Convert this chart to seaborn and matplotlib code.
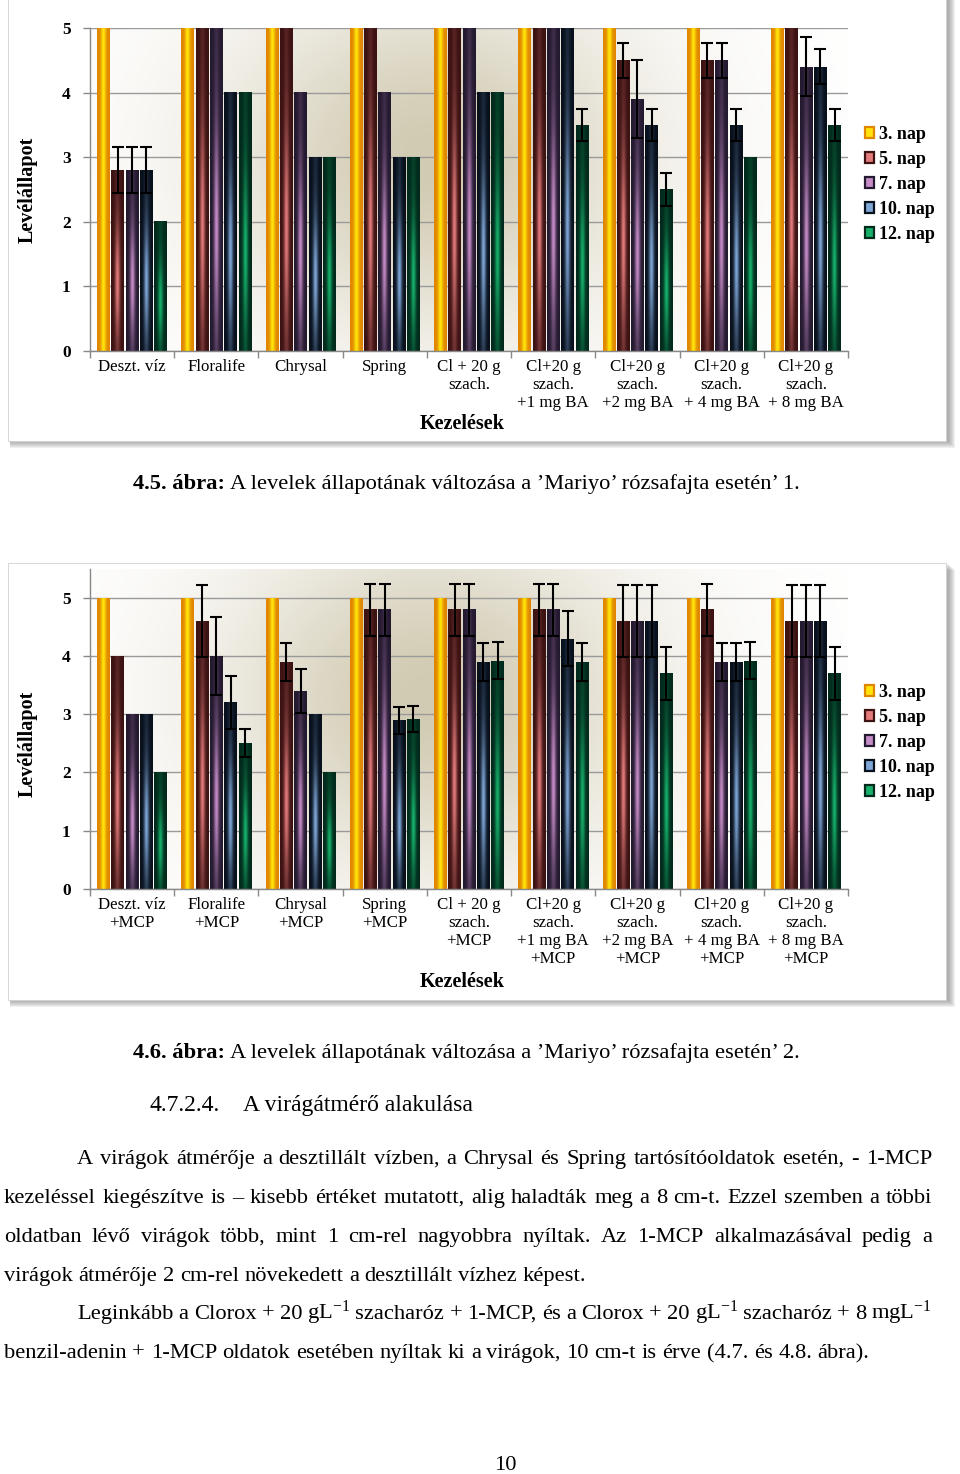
import numpy as np
import pandas as pd
import seaborn as sns
import matplotlib.pyplot as plt
from matplotlib.patches import Patch, Rectangle
from matplotlib.colors import to_rgb

# ---- data ---------------------------------------------------------------
days = ['3. nap', '5. nap', '7. nap', '10. nap', '12. nap']

cats_1 = ['Deszt. víz', 'Floralife', 'Chrysal', 'Spring', 'Cl + 20 g\nszach.',
          'Cl+20 g\nszach.\n+1 mg BA', 'Cl+20 g\nszach.\n+2 mg BA',
          'Cl+20 g\nszach.\n+ 4 mg BA', 'Cl+20 g\nszach.\n+ 8 mg BA']
nap3_1 = [5, 5, 5, 5, 5, 5, 5, 5, 5]
nap5_1 = [2.8, 5, 5, 5, 5, 5, 4.5, 4.5, 5]
nap7_1 = [2.8, 5, 4, 4, 5, 5, 3.9, 4.5, 4.4]
nap10_1 = [2.8, 4, 3, 3, 4, 5, 3.5, 3.5, 4.4]
nap12_1 = [2.0, 4, 3, 3, 4, 3.5, 2.5, 3.0, 3.5]
err3_1 = [0, 0, 0, 0, 0, 0, 0, 0, 0]
err5_1 = [0.35, 0, 0, 0, 0, 0, 0.27, 0.27, 0]
err7_1 = [0.35, 0, 0, 0, 0, 0, 0.6, 0.27, 0.46]
err10_1 = [0.35, 0, 0, 0, 0, 0, 0.25, 0.25, 0.27]
err12_1 = [0, 0, 0, 0, 0, 0.25, 0.26, 0, 0.25]

cats_2 = ['Deszt. víz\n+MCP', 'Floralife\n+MCP', 'Chrysal\n+MCP', 'Spring\n+MCP',
          'Cl + 20 g\nszach.\n+MCP', 'Cl+20 g\nszach.\n+1 mg BA\n+MCP',
          'Cl+20 g\nszach.\n+2 mg BA\n+MCP', 'Cl+20 g\nszach.\n+ 4 mg BA\n+MCP',
          'Cl+20 g\nszach.\n+ 8 mg BA\n+MCP']
nap3_2 = [5, 5, 5, 5, 5, 5, 5, 5, 5]
nap5_2 = [4, 4.6, 3.9, 4.8, 4.8, 4.8, 4.6, 4.8, 4.6]
nap7_2 = [3, 4.0, 3.4, 4.8, 4.8, 4.8, 4.6, 3.9, 4.6]
nap10_2 = [3, 3.2, 3.0, 2.9, 3.9, 4.3, 4.6, 3.9, 4.6]
nap12_2 = [2, 2.5, 2.0, 2.92, 3.92, 3.9, 3.7, 3.92, 3.7]
err3_2 = [0, 0, 0, 0, 0, 0, 0, 0, 0]
err5_2 = [0, 0.62, 0.33, 0.45, 0.45, 0.45, 0.62, 0.45, 0.62]
err7_2 = [0, 0.67, 0.38, 0.45, 0.45, 0.45, 0.62, 0.33, 0.62]
err10_2 = [0, 0.46, 0, 0.23, 0.33, 0.47, 0.62, 0.33, 0.62]
err12_2 = [0, 0.24, 0, 0.22, 0.32, 0.32, 0.45, 0.32, 0.45]

# bar colours: (edge/dark, centre/bright)
bar_cols = [('#E08600', '#FFE40A'), ('#3C1212', '#E47B7B'), ('#241A30', '#C68CC8'),
            ('#08101C', '#7EA6D6'), ('#022A1C', '#16B06A')]

plt.rcParams['font.family'] = 'Liberation Serif'
plt.rcParams['mathtext.fontset'] = 'custom'
plt.rcParams['mathtext.rm'] = 'Liberation Serif'
plt.rcParams['mathtext.it'] = 'Liberation Serif:italic'
plt.rcParams['mathtext.bf'] = 'Liberation Serif:bold'

W, H = 960, 1474
fig = plt.figure(figsize=(W / 100, H / 100), dpi=100)


def fx(px):
    return px / W


def fy(py):
    return 1 - py / H


def frame(x0, y0, x1, y1):
    # white chart frame with a soft grey shadow to the right and bottom
    for k in range(7, 0, -1):
        fig.patches.append(Rectangle((fx(x0 + 2), fy(y1 + k)), fx(x1 - x0 + k), (y1 - y0) / H,
                                     transform=fig.transFigure, facecolor='#606060',
                                     alpha=0.09, edgecolor='none', zorder=-3))
    fig.patches.append(Rectangle((fx(x0), fy(y1)), fx(x1 - x0), (y1 - y0) / H,
                                 transform=fig.transFigure, facecolor='white',
                                 edgecolor='#d0d0d0', lw=0.6, zorder=-1))


def long_df(cats, series):
    rows = []
    for d, vals in zip(days, series):
        for c, v in zip(cats, vals):
            rows.append({'Kezelés': c, 'nap': d, 'érték': v})
    return pd.DataFrame(rows)


def draw_chart(rect, cats, series, errs, ymax, ylab_y, xlab_y, leg_top):
    ax = fig.add_axes(rect)
    df = long_df(cats, series)
    sns.barplot(data=df, x='Kezelés', y='érték', hue='nap', ax=ax,
                palette=[c[1] for c in bar_cols], width=0.85, gap=0.12,
                errorbar=None, legend=False, zorder=2)

    # background: soft beige radial gradient
    gx, gy = np.meshgrid(np.linspace(0, 1, 200), np.linspace(0, 1, 120))
    t = np.exp(-(((gx - 0.45) / 0.28) ** 2 + ((gy - 0.6) / 0.55) ** 2))
    beige = np.array(to_rgb('#D2CBB3'))
    bg = 1 + (beige - 1) * t[..., None]
    ax.imshow(bg, extent=(0, 1, 0, 1), transform=ax.transAxes, origin='lower',
              aspect='auto', zorder=0, interpolation='bilinear')

    # gradient fills over each bar, error bars on top
    xs = np.linspace(0, 1, 40)
    hx = np.exp(-((xs - 0.5) / 0.2) ** 2)
    ys = np.linspace(0, 1, 120)
    hy = 0.15 + 0.85 * np.exp(-((ys - 0.38) / 0.3) ** 2)
    bars = [c for c in ax.containers]
    for i, cont in enumerate(bars):
        dark = np.array(to_rgb(bar_cols[i][0]))
        mid = np.array(to_rgb(bar_cols[i][1]))
        tt = np.tile(hx, (len(ys), 1)) if i == 0 else np.outer(hy, hx)
        img = dark + (mid - dark) * tt[..., None]
        for j, p in enumerate(cont):
            x0, w, h = p.get_x(), p.get_width(), p.get_height()
            p.set_facecolor(bar_cols[i][0])
            p.set_edgecolor('none')
            ax.imshow(img, extent=(x0, x0 + w, 0, h), origin='lower', aspect='auto',
                      zorder=3, interpolation='bilinear')
            e = errs[i][j]
            if e > 0:
                ax.errorbar(x0 + w / 2, h, yerr=e, fmt='none', ecolor='black',
                            elinewidth=1.5, capsize=4.6, capthick=1.5, zorder=5)

    ax.set_xlim(-0.5, len(cats) - 0.5)
    ax.set_ylim(0, ymax)
    ax.set_yticks([0, 1, 2, 3, 4, 5])
    ax.set_yticklabels(['0', '1', '2', '3', '4', '5'], fontsize=12.5, fontweight='bold')
    ax.set_xticks(range(len(cats)))
    ax.set_xticklabels(cats, fontsize=12.2, linespacing=1.16)
    ax.set_xticks(np.arange(-0.5, len(cats)), minor=True)
    ax.tick_params(axis='x', which='major', length=0, pad=6)
    ax.tick_params(axis='x', which='minor', length=5, color='#888888', width=1)
    ax.tick_params(axis='y', length=5, color='#888888', width=1, pad=9)
    ax.yaxis.grid(True, color='#9a9a9a', lw=1, zorder=1)
    ax.set_axisbelow(True)
    for s in ['top', 'right']:
        ax.spines[s].set_visible(False)
    for s in ['left', 'bottom']:
        ax.spines[s].set_color('#888888')
        ax.spines[s].set_linewidth(1)
        ax.spines[s].set_zorder(6)
    ax.set_ylabel('Levélállapot', fontsize=14.5, fontweight='bold')
    ax.yaxis.set_label_coords(-0.069, ylab_y)
    ax.set_xlabel('Kezelések', fontsize=14.5, fontweight='bold')
    ax.xaxis.set_label_coords(0.491, xlab_y)

    handles = [Patch(facecolor=c[1], edgecolor=c[0], lw=1.6) for c in bar_cols]
    fig.legend(handles, days, loc='upper left', bbox_to_anchor=(fx(865), fy(leg_top)),
               frameon=False, prop={'size': 13, 'weight': 'bold'}, handlelength=0.5,
               handleheight=0.5, handletextpad=0.25, labelspacing=0.44,
               borderpad=0, borderaxespad=0)
    return ax


frame(8, -10, 946, 441)
frame(8, 563, 946, 1000)

draw_chart([fx(90), fy(350.7), 758 / W, 322.7 / H], cats_1,
           [nap3_1, nap5_1, nap7_1, nap10_1, nap12_1],
           [err3_1, err5_1, err7_1, err10_1, err12_1], 5, 0.5, -0.197, 126)
draw_chart([fx(90), fy(888.7), 758 / W, 319.7 / H], cats_2,
           [nap3_2, nap5_2, nap7_2, nap10_2, nap12_2],
           [err3_2, err5_2, err7_2, err10_2, err12_2], 5.5, 0.453, -0.262, 684)

# ---- page text ----------------------------------------------------------
fig.canvas.draw()
rend = fig.canvas.get_renderer()
SZ = 16.2


def caption(num, rest, y):
    t1 = fig.text(fx(133), fy(y), num, fontsize=SZ, fontweight='bold', va='baseline')
    w = t1.get_window_extent(rend).width
    fig.text(fx(133 + w + 5), fy(y), rest, fontsize=SZ, va='baseline')


def line(text, y, x0, x1=932, just=True):
    words = text.split(' ')
    ts = [fig.text(0, fy(y), wd, fontsize=SZ, va='baseline') for wd in words]
    ws = [t.get_window_extent(rend).width for t in ts]
    gap = (x1 - x0 - sum(ws)) / (len(ws) - 1) if just else 5.6
    x = x0
    for t, wd in zip(ts, ws):
        t.set_x(fx(x))
        x += wd + gap


caption('4.5. ábra:', 'A levelek állapotának változása a ’Mariyo’ rózsafajta esetén’ 1.', 489)
caption('4.6. ábra:', 'A levelek állapotának változása a ’Mariyo’ rózsafajta esetén’ 2.', 1058)

fig.text(fx(150), fy(1111), '4.7.2.4.', fontsize=17, va='baseline')
fig.text(fx(243), fy(1111), 'A virágátmérő alakulása', fontsize=17, va='baseline')

line('A virágok átmérője a desztillált vízben, a Chrysal és Spring tartósítóoldatok esetén, - 1-MCP', 1164, 77)
line('kezeléssel kiegészítve is – kisebb értéket mutatott, alig haladták meg a 8 cm-t. Ezzel szemben a többi', 1203, 4)
line('oldatban lévő virágok több, mint 1 cm-rel nagyobbra nyíltak. Az 1-MCP alkalmazásával pedig a', 1242, 4)
line('virágok átmérője 2 cm-rel növekedett a desztillált vízhez képest.', 1281, 4, just=False)
line('Leginkább a Clorox + 20 gL$^{-1}$ szacharóz + 1-MCP, és a Clorox + 20 gL$^{-1}$ szacharóz + 8 mgL$^{-1}$', 1319, 77)
line('benzil-adenin + 1-MCP oldatok esetében nyíltak ki a virágok, 10 cm-t is érve (4.7. és 4.8. ábra).', 1358, 4, just=False)

fig.text(fx(505), fy(1470), '10', fontsize=SZ, ha='center', va='baseline')

fig.savefig('out.png', dpi=100)
